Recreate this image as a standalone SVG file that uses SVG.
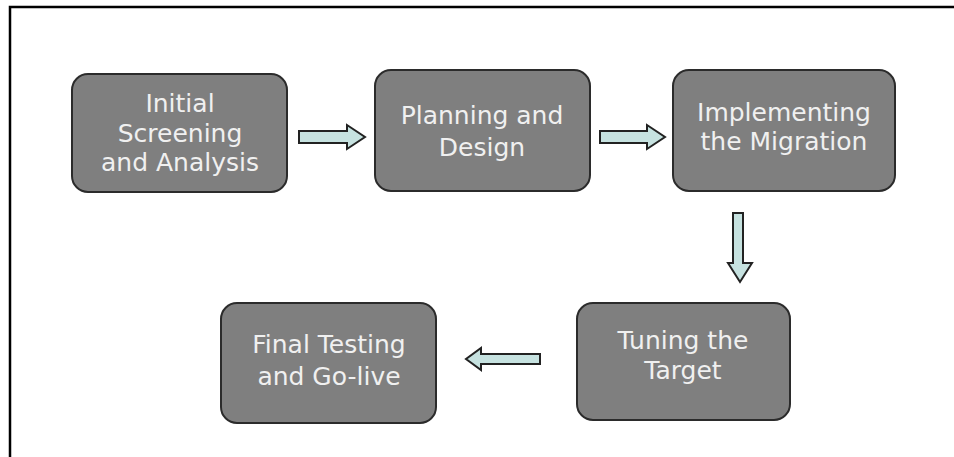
<svg xmlns="http://www.w3.org/2000/svg" width="954" height="457" viewBox="0 0 954 457">
<style>
.box{fill:#7f7f7f;stroke:#2b2b2b;stroke-width:2}
.t{font-family:"DejaVu Sans",Verdana,sans-serif;font-size:25px;fill:#f0f0f0;text-anchor:middle}
.arr{fill:#c6e2e0;stroke:#222;stroke-width:2;stroke-linejoin:miter}
</style>
<rect width="954" height="457" fill="#fff"/>
<path d="M10,457 V7 H954" fill="none" stroke="#000" stroke-width="2.5"/>
<g id="n1"><rect class="box" x="72" y="74" width="215" height="118" rx="16"/>
<text class="t" x="180" y="112">Initial</text><text class="t" x="180" y="142">Screening</text><text class="t" x="180" y="171">and Analysis</text></g>
<g id="n2"><rect class="box" x="375" y="70" width="215" height="121" rx="16"/>
<text class="t" x="482" y="124">Planning and</text><text class="t" x="482" y="156">Design</text></g>
<g id="n3"><rect class="box" x="673" y="70" width="222" height="121" rx="16"/>
<text class="t" x="784" y="121">Implementing</text><text class="t" x="784" y="150">the Migration</text></g>
<g id="n4"><rect class="box" x="577" y="303" width="213" height="117" rx="16"/>
<text class="t" x="683" y="349">Tuning the</text><text class="t" x="683" y="379">Target</text></g>
<g id="n5"><rect class="box" x="221" y="303" width="215" height="120" rx="16"/>
<text class="t" x="329" y="353">Final Testing</text><text class="t" x="329" y="385">and Go-live</text></g>
<g id="connectors">
<path class="arr" d="M299,131 H347 V125 L365,137 L347,149 V143 H299 Z"/>
<path class="arr" d="M600,131 H647 V125 L665,137 L647,149 V143 H600 Z"/>
<path class="arr" d="M733,213 V263 H728 L740,282 L752,263 H743 V213 Z"/>
<path class="arr" d="M540,354 H481 V348 L466,359 L481,370 V364 H540 Z"/>
</g>
</svg>
